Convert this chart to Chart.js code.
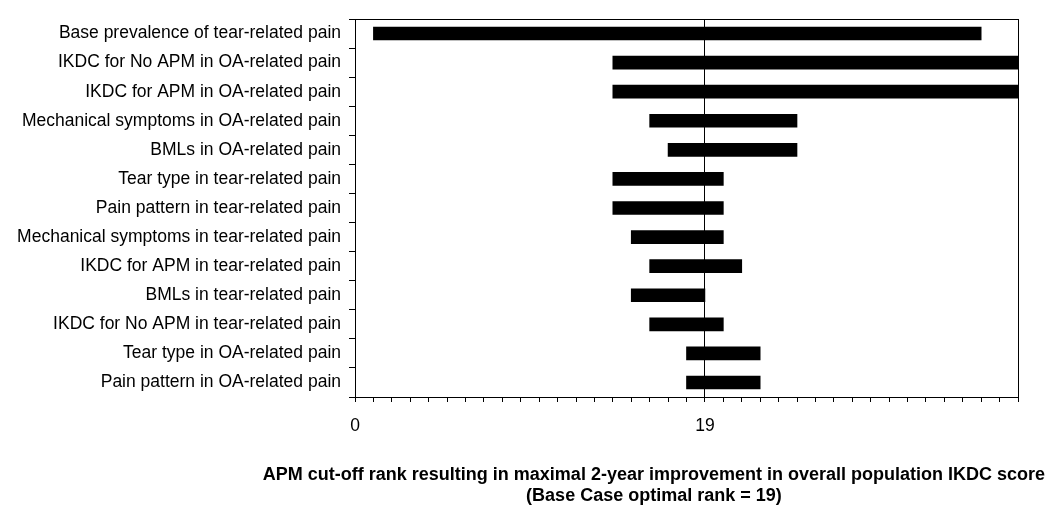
<!DOCTYPE html>
<html>
<head>
<meta charset="utf-8">
<script src="https://cdn.jsdelivr.net/npm/chart.js@4"></script>
<style>
  html, body { margin: 0; padding: 0; background: #fff; }
  #wrap { width: 1050px; height: 513px; }
</style>
</head>
<body>
<div id="wrap"><canvas id="tornado"></canvas></div>
<script>
// Sensitivity analysis: optimal APM cut-off rank range per parameter
const categories = [
    "Base prevalence of tear-related pain",
    "IKDC for No APM in OA-related pain",
    "IKDC for APM in OA-related pain",
    "Mechanical symptoms in OA-related pain",
    "BMLs in OA-related pain",
    "Tear type in tear-related pain",
    "Pain pattern in tear-related pain",
    "Mechanical symptoms in tear-related pain",
    "IKDC for APM in tear-related pain",
    "BMLs in tear-related pain",
    "IKDC for No APM in tear-related pain",
    "Tear type in OA-related pain",
    "Pain pattern in OA-related pain"
];
const rankLow  = [1, 14, 14, 16, 17, 14, 14, 15, 16, 15, 16, 18, 18];
const rankHigh = [34, 36, 36, 24, 24, 20, 20, 20, 21, 19, 20, 22, 22];
const baseCaseRank = 19;
const axisMin = 0;
const axisMax = 36;
const tickLabels = [0, 19];
const titleLines = [
    "APM cut-off rank resulting in maximal 2-year improvement in overall population IKDC score",
    "(Base Case optimal rank = 19)"
];

const ranges = rankLow.map((lo, i) => [lo, rankHigh[i]]);
const labelFont = { family: "'Liberation Sans', Arial, sans-serif", size: 17.5 };

// frame round the plot area plus the two-line caption under the axis
const frameAndCaption = {
    id: "frameAndCaption",
    afterDraw(chart) {
        const { ctx, chartArea } = chart;
        ctx.save();
        ctx.strokeStyle = "#000";
        ctx.lineWidth = 1;
        ctx.strokeRect(chartArea.left + 0.5, chartArea.top + 0.5,
            chartArea.right - chartArea.left, chartArea.bottom - chartArea.top);

        ctx.fillStyle = "#000";
        ctx.font = "bold 18px 'Liberation Sans', Arial, sans-serif";
        ctx.textAlign = "center";
        ctx.textBaseline = "middle";
        const w = ctx.measureText(titleLines[0]).width;
        const cx = chart.width - 5 - w / 2;
        ctx.fillText(titleLines[0], cx, chartArea.bottom + 78);
        ctx.fillText(titleLines[1], cx, chartArea.bottom + 99);
        ctx.restore();
    }
};

new Chart(document.getElementById("tornado"), {
    type: "bar",
    data: {
        labels: categories,
        datasets: [{
            data: ranges,
            backgroundColor: "#000",
            borderWidth: 0,
            barThickness: 13
        }]
    },
    options: {
        indexAxis: "y",
        responsive: true,
        maintainAspectRatio: false,
        animation: false,
        layout: { padding: { top: 19, right: 32, left: 0, bottom: 0 } },
        plugins: {
            legend: { display: false },
            tooltip: { enabled: false }
        },
        scales: {
            x: {
                type: "linear",
                min: axisMin,
                max: axisMax,
                afterFit(scale) { scale.height = 116; },
                border: { display: true, color: "#000", width: 1 },
                grid: {
                    drawOnChartArea: true,
                    color: c => (c.tick && c.tick.value === baseCaseRank) ? "#000" : "rgba(0,0,0,0)",
                    tickColor: "#000",
                    tickLength: 5
                },
                ticks: {
                    stepSize: 1,
                    autoSkip: false,
                    maxRotation: 0,
                    padding: 14,
                    color: "#000",
                    font: labelFont,
                    callback: v => tickLabels.includes(v) ? String(v) : ""
                }
            },
            y: {
                type: "category",
                afterFit(scale) { scale.width = 355; },
                border: { display: true, color: "#000", width: 1 },
                grid: {
                    offset: true,
                    drawOnChartArea: false,
                    tickColor: "#000",
                    tickLength: 6
                },
                ticks: {
                    autoSkip: false,
                    padding: 8,
                    color: "#000",
                    font: labelFont
                }
            }
        }
    },
    plugins: [frameAndCaption]
});
</script>
</body>
</html>
